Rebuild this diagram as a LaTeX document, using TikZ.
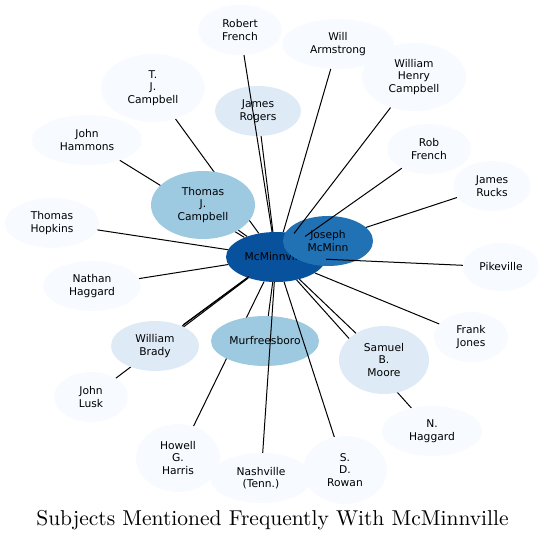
\documentclass[tikz,border=0pt]{standalone}
\usepackage{fontspec}
\newfontfamily\nodefont{DejaVu Sans}
\usetikzlibrary{shapes.geometric,backgrounds}
\definecolor{cA}{HTML}{08519C}
\definecolor{cB}{HTML}{2171B5}
\definecolor{cC}{HTML}{9ECAE1}
\definecolor{cD}{HTML}{DEEBF7}
\definecolor{cE}{HTML}{F7FBFF}
\begin{document}
\begin{tikzpicture}[x=1pt,y=-1pt,
  ent/.style={ellipse, inner sep=0pt, draw=none, align=center,
    font=\nodefont\fontsize{10.7}{12.5}\selectfont, text=black},
  link/.style={line width=1pt, black},
  titletext/.style={font=\fontsize{10}{12}\selectfont, anchor=base, inner sep=0pt}]
\useasboundingbox (0,0) rectangle (545,541);
% nodes
\node[ent, fill=cE, minimum width=84pt, minimum height=50pt] (rf) at (240,30) {Robert\\French};
\node[ent, fill=cE, minimum width=112pt, minimum height=50pt] (wa) at (338,44) {Will\\Armstrong};
\node[ent, fill=cE, minimum width=104pt, minimum height=68pt] (whc) at (414,77) {William\\Henry\\Campbell};
\node[ent, fill=cE, minimum width=104pt, minimum height=68pt] (tjc) at (153,88) {T.\\J.\\Campbell};
\node[ent, fill=cD, minimum width=86pt, minimum height=50pt] (jr) at (258,111) {James\\Rogers};
\node[ent, fill=cE, minimum width=110pt, minimum height=50pt] (jh) at (87,140) {John\\Hammons};
\node[ent, fill=cE, minimum width=84pt, minimum height=50pt] (rob) at (429,149) {Rob\\French};
\node[ent, fill=cE, minimum width=78pt, minimum height=50pt] (jru) at (492,186) {James\\Rucks};
\node[ent, fill=cC, minimum width=104pt, minimum height=68pt] (thc) at (203,205) {Thomas\\J.\\Campbell};
\node[ent, fill=cE, minimum width=94pt, minimum height=50pt] (th) at (52,223) {Thomas\\Hopkins};
\node[ent, fill=cA, minimum width=100pt, minimum height=50pt] (mc) at (276,257) {McMinnville};
\node[ent, fill=cB, minimum width=90pt, minimum height=50pt] (jm) at (328,241) {Joseph\\McMinn};
\node[ent, fill=cE, minimum width=76pt, minimum height=48pt] (pk) at (501,267) {Pikeville};
\node[ent, fill=cE, minimum width=98pt, minimum height=50pt] (nh) at (92,286) {Nathan\\Haggard};
\node[ent, fill=cE, minimum width=74pt, minimum height=50pt] (fj) at (471,337) {Frank\\Jones};
\node[ent, fill=cD, minimum width=88pt, minimum height=50pt] (wb) at (155,346) {William\\Brady};
\node[ent, fill=cC, minimum width=108pt, minimum height=50pt] (mu) at (265,341) {Murfreesboro};
\node[ent, fill=cD, minimum width=90pt, minimum height=68pt] (sbm) at (384,360) {Samuel\\B.\\Moore};
\node[ent, fill=cE, minimum width=74pt, minimum height=50pt] (jl) at (91,397) {John\\Lusk};
\node[ent, fill=cE, minimum width=100pt, minimum height=50pt] (nha) at (432,431) {N.\\Haggard};
\node[ent, fill=cE, minimum width=84pt, minimum height=68pt] (hgh) at (178,458) {Howell\\G.\\Harris};
\node[ent, fill=cE, minimum width=84pt, minimum height=68pt] (sdr) at (345,470) {S.\\D.\\Rowan};
\node[ent, fill=cE, minimum width=102pt, minimum height=50pt] (na) at (261,478) {Nashville\\(Tenn.)};
% title
\node[titletext] (title) at (272.5,525) {\scalebox{2.15}{Subjects Mentioned Frequently With McMinnville}};
% edges hidden behind nodes
\begin{pgfonlayer}{background}
\draw[link] (jh) -- (mc);
\draw[link] (tjc) -- (mc);
\draw[link] (hgh) -- (mc);
\draw[link] (jl) -- (mc);
\draw[link] (nha) -- (mc);
\draw[link] (jru) -- (mc);
\end{pgfonlayer}
% edges drawn over nodes
\draw[link] (rf) -- (mc);
\draw[link] (jr) -- (mc);
\draw[link] (wa) -- (mc);
\draw[link] (whc) -- (mc);
\draw[link] (rob) -- (mc);
\draw[link] (pk) -- (mc);
\draw[link] (fj) -- (mc);
\draw[link] (sbm) -- (mc);
\draw[link] (na) -- (mc);
\draw[link] (sdr) -- (mc);
\draw[link] (mu) -- (mc);
\draw[link] (wb) -- (mc);
\draw[link, transform canvas={xshift=1.2pt, yshift=1.4pt}] (wb) -- (mc);
\draw[link] (nh) -- (mc);
\draw[link] (th) -- (mc);
\draw[link] (thc) -- (mc);
\end{tikzpicture}
\end{document}
